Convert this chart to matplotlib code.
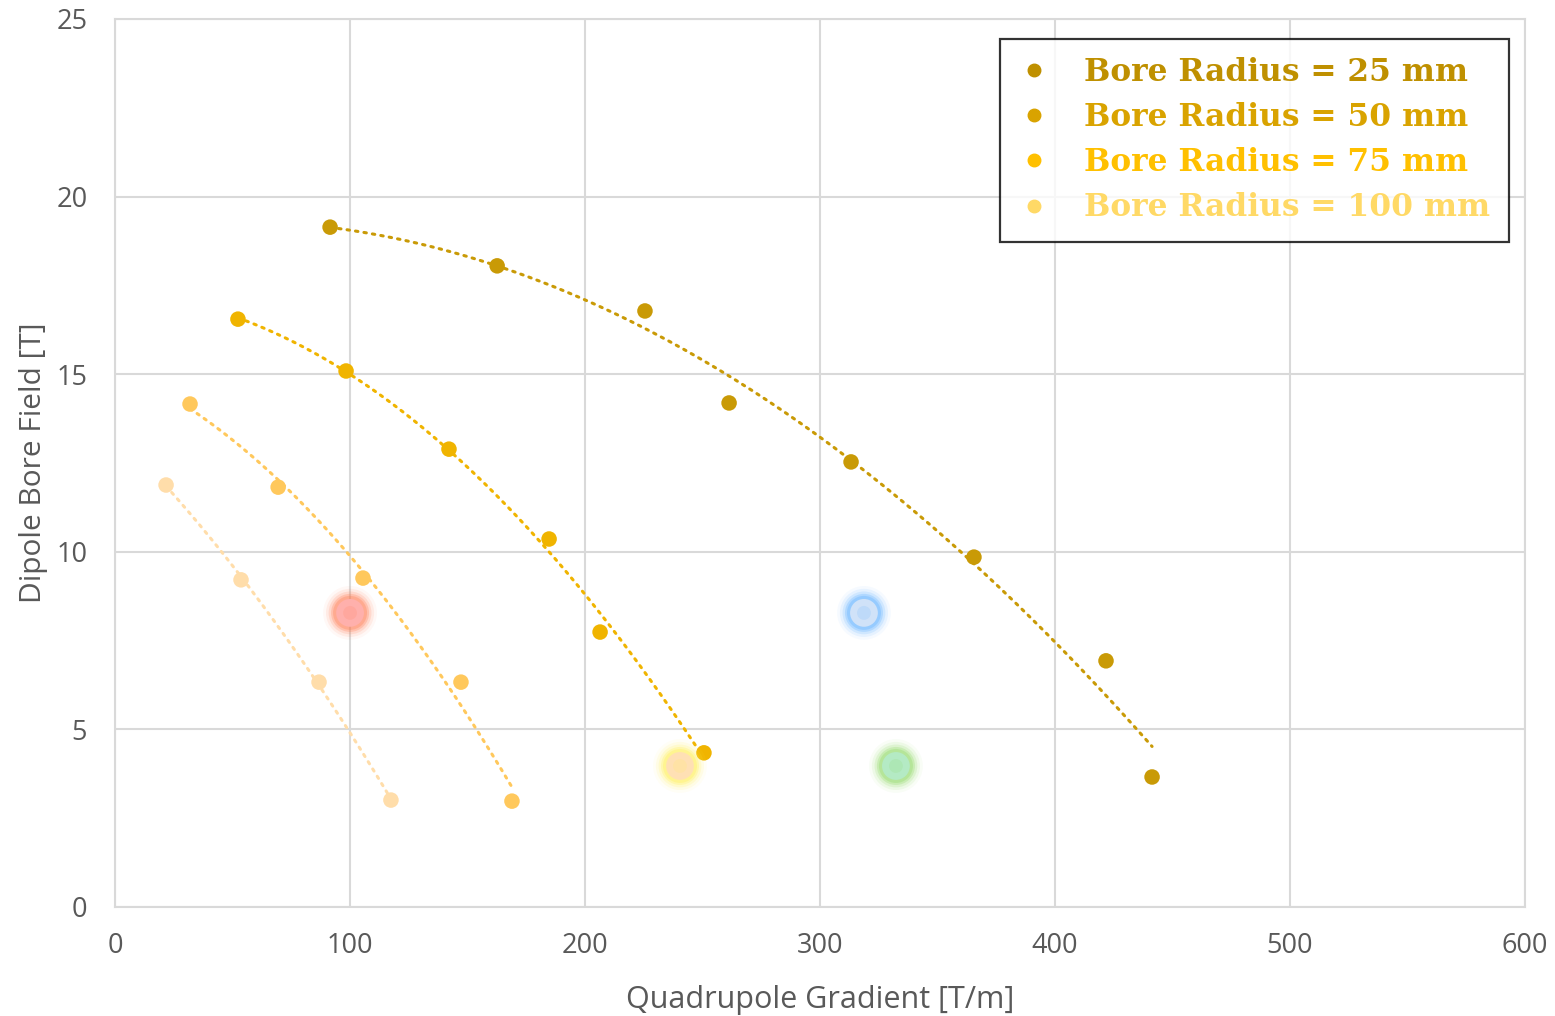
import numpy as np
import matplotlib
matplotlib.use("Agg")
import matplotlib.pyplot as plt
from matplotlib.lines import Line2D

# data
labels = ['Bore Radius = 25 mm', 'Bore Radius = 50 mm',
          'Bore Radius = 75 mm', 'Bore Radius = 100 mm']

x25 = [91.5, 162.6, 225.5, 261.3, 313.2, 365.5, 421.7, 441.3]
y25 = [19.14, 18.05, 16.78, 14.19, 12.53, 9.85, 6.93, 3.66]

x50 = [52.3, 98.3, 142.1, 184.7, 206.4, 250.6]
y50 = [16.55, 15.09, 12.89, 10.36, 7.74, 4.34]

x75 = [31.9, 69.4, 105.5, 147.2, 168.9]
y75 = [14.16, 11.82, 9.26, 6.33, 2.98]

x100 = [21.7, 53.6, 86.8, 117.4]
y100 = [11.88, 9.21, 6.33, 3.01]

# highlighted (glowing) points
glow_x = [100.0, 318.7, 240.4, 332.3]
glow_y = [8.28, 8.28, 3.97, 3.97]

marker_cols = ['#C99A06', '#F0B400', '#FFC85C', '#FFDDAA']
legend_cols = ['#BF9000', '#D9A300', '#FFC000', '#FFD966']
glow_outer = ['#FF7A50', '#5AAEFF', '#FFF050', '#8AD860']
glow_inner = ['#FFB0AC', '#D0E2F8', '#FFE0B4', '#B4EAC4']

fig = plt.figure(figsize=(15.55, 10.16), dpi=100)
ax = fig.add_axes([0.074, 0.1073, 0.9067, 0.874])

series = [(x25, y25), (x50, y50), (x75, y75), (x100, y100)]
for i, (xs, ys) in enumerate(series):
    xs = np.array(xs)
    ys = np.array(ys)
    # polynomial trendline (order 2), as in the spreadsheet
    coef = np.polyfit(xs, ys, 2)
    xt = np.linspace(xs.min(), xs.max(), 200)
    ax.plot(xt, np.polyval(coef, xt), color=marker_cols[i], lw=2.2,
            linestyle=(0, (0.8, 2.0)), dash_capstyle='round', zorder=2)
    ax.scatter(xs, ys, s=125, color=marker_cols[i], edgecolors='none', zorder=3)

# soft glow
for i in range(len(glow_x)):
    for s, a in [(1500, 0.05), (1200, 0.10), (950, 0.16), (750, 0.25), (600, 0.3)]:
        ax.scatter(glow_x[i], glow_y[i], s=s, color=glow_outer[i],
                   edgecolors='none', alpha=a, zorder=4)
    ax.scatter(glow_x[i], glow_y[i], s=400, color=glow_inner[i],
               edgecolors='none', zorder=5)
    ax.scatter(glow_x[i], glow_y[i], s=100, color=glow_outer[i],
               edgecolors='none', alpha=0.15, zorder=6)

ax.set_xlim(0, 600)
ax.set_ylim(0, 25)
ax.set_xticks([0, 100, 200, 300, 400, 500, 600])
ax.set_yticks([0, 5, 10, 15, 20, 25])
ax.grid(True, color='#D9D9D9', lw=1.5)
ax.set_axisbelow(True)
for sp in ax.spines.values():
    sp.set_color('#D9D9D9')
    sp.set_linewidth(1.5)
ax.tick_params(length=0, labelsize=19.5, colors='#595959')
ax.tick_params(axis='x', pad=18)
ax.tick_params(axis='y', pad=20)
for t in ax.get_xticklabels() + ax.get_yticklabels():
    t.set_family('Open Sans')

ax.set_xlabel('Quadrupole Gradient [T/m]', fontsize=22, color='#595959',
              family='Open Sans', labelpad=18)
ax.set_ylabel('Dipole Bore Field [T]', fontsize=21.5, color='#595959',
              family='Open Sans', labelpad=6)

handles = [Line2D([], [], marker='o', ls='none', color=c, markersize=9)
           for c in legend_cols]
leg = ax.legend(handles, labels, loc='upper right', bbox_to_anchor=(0.9885, 0.978),
                frameon=True, fancybox=False, edgecolor='black',
                prop={'family': 'DejaVu Serif', 'weight': 'bold', 'size': 22.5},
                handletextpad=1.1, labelspacing=0.45, borderpad=0.6,
                handlelength=1.0, borderaxespad=0)
leg.get_frame().set_linewidth(1.6)
for txt, c in zip(leg.get_texts(), legend_cols):
    txt.set_color(c)

fig.savefig('out.png', dpi=100)
